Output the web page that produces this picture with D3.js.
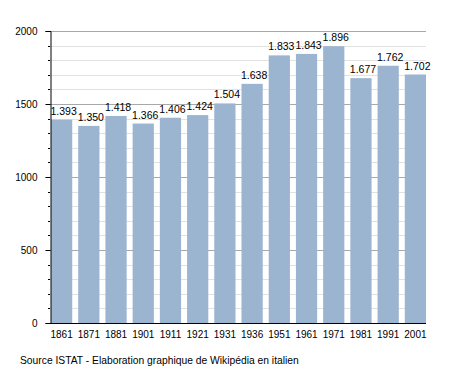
<!DOCTYPE html>
<html><head><meta charset="utf-8">
<script src="https://cdn.jsdelivr.net/npm/d3@7"></script>
<style>body{margin:0;background:#fff}text{font-family:"Liberation Sans",Arial,sans-serif}</style>
</head><body><svg id="c" width="455" height="373"></svg>
<script>
const years = ["1861","1871","1881","1901","1911","1921","1931","1936","1951","1961","1971","1981","1991","2001"];
const population = [1393,1350,1418,1366,1406,1424,1504,1638,1833,1843,1896,1677,1762,1702];
const valueLabels = ["1.393","1.350","1.418","1.366","1.406","1.424","1.504","1.638","1.833","1.843","1.896","1.677","1.762","1.702"];
const yTicks = [0,500,1000,1500,2000];
const sourceText = "Source ISTAT - Elaboration graphique de Wikipédia en italien";

const svg = d3.select("#c");
const x = d3.scaleBand().domain(years).range([48, 429]).paddingInner(0.22).paddingOuter(0.11);
const y = d3.scaleLinear().domain([0, 2000]).range([323, 31]);
const left = 50, right = 426;

// minor grid
svg.append("g").selectAll("line").data(d3.range(100, 2001, 100).filter(v => v % 500 !== 0))
  .join("line").attr("x1", left).attr("x2", right).attr("y1", d => Math.round(y(d)) + 0.5).attr("y2", d => Math.round(y(d)) + 0.5)
  .attr("stroke", "#e2e2e2").attr("stroke-width", 1);
// major grid
svg.append("g").selectAll("line").data(yTicks.filter(v => v > 0))
  .join("line").attr("x1", left).attr("x2", right).attr("y1", d => Math.round(y(d)) + 0.5).attr("y2", d => Math.round(y(d)) + 0.5)
  .attr("stroke", "#a8a8a8").attr("stroke-width", 1);

// bars
svg.append("g").selectAll("rect").data(population).join("rect")
  .attr("x", (d, i) => x(years[i])).attr("width", x.bandwidth())
  .attr("y", d => y(d)).attr("height", d => y(0) - y(d))
  .attr("fill", "#9bb4cf");

// value labels
svg.append("g").selectAll("text").data(population).join("text")
  .attr("x", (d, i) => x(years[i]) + x.bandwidth() / 2 + 2).attr("y", d => y(d) - 5)
  .attr("text-anchor", "middle").attr("font-size", 10.5).attr("fill", "#000")
  .text((d, i) => valueLabels[i]);

// y axis
const yAxis = d3.axisLeft(y).tickValues(yTicks).tickSize(5).tickFormat(d3.format("d"));
const ga = svg.append("g").attr("transform", `translate(${left + 0.5},0)`).call(yAxis);
ga.select(".domain").attr("stroke", "#000");
ga.selectAll(".tick text").attr("font-size", 10).attr("font-family", "Liberation Sans, Arial, sans-serif").attr("x", -13).attr("fill", "#000");
ga.selectAll(".tick line").attr("stroke", "#000");
// minor ticks
svg.append("g").selectAll("line").data(d3.range(100, 2001, 100).filter(v => v % 500 !== 0))
  .join("line").attr("x1", left - 2).attr("x2", left).attr("y1", d => Math.round(y(d)) + 0.5).attr("y2", d => Math.round(y(d)) + 0.5)
  .attr("stroke", "#000");

// x axis
const xAxis = d3.axisBottom(x).tickSize(0).tickPadding(7);
const gx = svg.append("g").attr("transform", `translate(0,${y(0) + 0.5})`).call(xAxis);
gx.select(".domain").attr("d", `M${left},0H${right}`).attr("stroke", "#000");
gx.selectAll(".tick text").attr("font-size", 10).attr("font-family", "Liberation Sans, Arial, sans-serif").attr("fill", "#000");

svg.append("text").attr("x", 20).attr("y", 364).attr("font-size", 10.3).attr("fill", "#000").text(sourceText);
</script></body></html>
